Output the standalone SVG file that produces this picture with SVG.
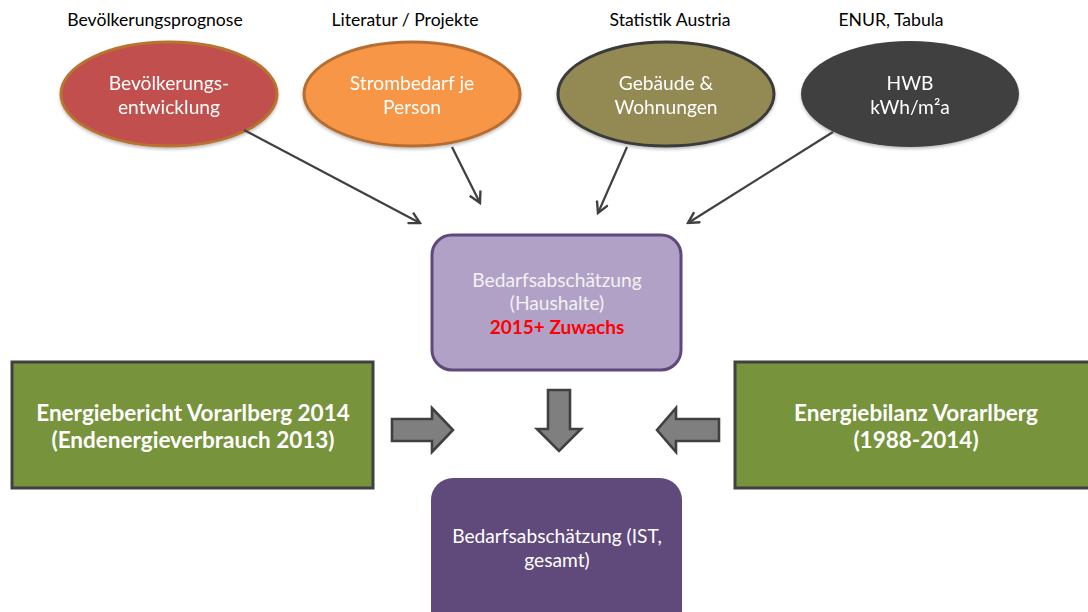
<svg xmlns="http://www.w3.org/2000/svg" width="1088" height="612" viewBox="0 0 1088 612">
  <defs>
    <marker id="open-arrow" viewBox="0 0 14 14" refX="12" refY="7" markerWidth="14" markerHeight="14" markerUnits="userSpaceOnUse" orient="auto">
      <polyline points="1,1 12,7 1,13" fill="none" stroke="#404040" stroke-width="2.4"/>
    </marker>
    <filter id="soft-shadow" x="-10%" y="-10%" width="120%" height="130%">
      <feDropShadow dx="0" dy="2" stdDeviation="1.5" flood-color="#000" flood-opacity="0.25"/>
    </filter>
  </defs>
  <style>
    .cap { font-family: Lato, "Liberation Sans", sans-serif; font-size: 17.6px; fill: #000; text-anchor: middle; }
    .lbl { font-family: Lato, "Liberation Sans", sans-serif; font-size: 19.2px; fill: #ffffff; text-anchor: middle; }
    .bold { font-family: Lato, "Liberation Sans", sans-serif; font-size: 22.5px; font-weight: bold; fill: #ffffff; text-anchor: middle; }
    .conn { stroke: #404040; stroke-width: 2.2; fill: none; marker-end: url(#open-arrow); }
    .block { fill: #7f7f7f; stroke: #404040; stroke-width: 2.6; stroke-linejoin: miter; }
    .green { fill: #77933c; stroke: #404040; stroke-width: 3; }
  </style>

  <rect width="1088" height="612" fill="#ffffff"/>

  <!-- source captions -->
  <g id="captions">
    <text class="cap" x="155" y="26">Bevölkerungsprognose</text>
    <text class="cap" x="405" y="26">Literatur / Projekte</text>
    <text class="cap" x="670" y="26">Statistik Austria</text>
    <text class="cap" x="891" y="26">ENUR, Tabula</text>
  </g>

  <!-- input ellipses -->
  <g id="bevoelkerung" filter="url(#soft-shadow)">
    <ellipse cx="169" cy="94" rx="108" ry="52" fill="#c0504d" stroke="#b8732f" stroke-width="3"/>
    <text class="lbl" x="169" y="90">Bevölkerungs-</text>
    <text class="lbl" x="169" y="114">entwicklung</text>
  </g>
  <g id="strombedarf" filter="url(#soft-shadow)">
    <ellipse cx="412" cy="94" rx="108" ry="52" fill="#f79646" stroke="#b66d31" stroke-width="3"/>
    <text class="lbl" x="412" y="90">Strombedarf je</text>
    <text class="lbl" x="412" y="114">Person</text>
  </g>
  <g id="gebaeude" filter="url(#soft-shadow)">
    <ellipse cx="666" cy="94" rx="108" ry="52" fill="#938953" stroke="#3a3a3a" stroke-width="3"/>
    <text class="lbl" x="666" y="90">Gebäude &amp;</text>
    <text class="lbl" x="666" y="114">Wohnungen</text>
  </g>
  <g id="hwb" filter="url(#soft-shadow)">
    <ellipse cx="910" cy="94" rx="109" ry="53" fill="#404040"/>
    <text class="lbl" x="910" y="90">HWB</text>
    <text class="lbl" x="910" y="114">kWh/m²a</text>
  </g>

  <!-- connectors from the inputs to the household estimate -->
  <g id="connectors">
    <line class="conn" x1="244" y1="130" x2="420" y2="223"/>
    <line class="conn" x1="452" y1="147" x2="480" y2="203"/>
    <line class="conn" x1="627" y1="147" x2="598" y2="213"/>
    <line class="conn" x1="833" y1="132" x2="688" y2="223"/>
  </g>

  <!-- household estimate -->
  <g id="haushalte">
    <rect x="432" y="235" width="249" height="135" rx="20" ry="20" fill="#b2a1c7" stroke="#5f497a" stroke-width="3"/>
    <text class="lbl" x="557" y="287" style="fill:#f2f2f2">Bedarfsabschätzung</text>
    <text class="lbl" x="557" y="310" style="fill:#f2f2f2">(Haushalte)</text>
    <text class="lbl" x="557" y="334" style="fill:#ff0000;font-weight:bold;font-size:19px">2015+ Zuwachs</text>
  </g>

  <!-- block arrows -->
  <g id="block-arrows">
    <polygon class="block" points="392,419 432,419 432,408 453,430 432,452 432,441 392,441"/>
    <polygon class="block" points="548,390 570,390 570,429 581,429 559,451 537,429 548,429"/>
    <polygon class="block" points="719,419 676,419 676,408 657,430 676,452 676,441 719,441"/>
  </g>

  <!-- energy reports -->
  <g id="energiebericht">
    <rect class="green" x="12" y="362" width="361" height="126"/>
    <text class="bold" x="193" y="421">Energiebericht Vorarlberg 2014</text>
    <text class="bold" x="193" y="448">(Endenergieverbrauch 2013)</text>
  </g>
  <g id="energiebilanz">
    <rect class="green" x="735" y="362" width="363" height="126"/>
    <text class="bold" x="916" y="421">Energiebilanz Vorarlberg</text>
    <text class="bold" x="916" y="448">(1988-2014)</text>
  </g>

  <!-- total estimate -->
  <g id="gesamt">
    <rect x="431" y="478" width="251" height="160" rx="22" ry="22" fill="#604a7b"/>
    <text class="lbl" x="557" y="543">Bedarfsabschätzung (IST,</text>
    <text class="lbl" x="557" y="567">gesamt)</text>
  </g>
</svg>
